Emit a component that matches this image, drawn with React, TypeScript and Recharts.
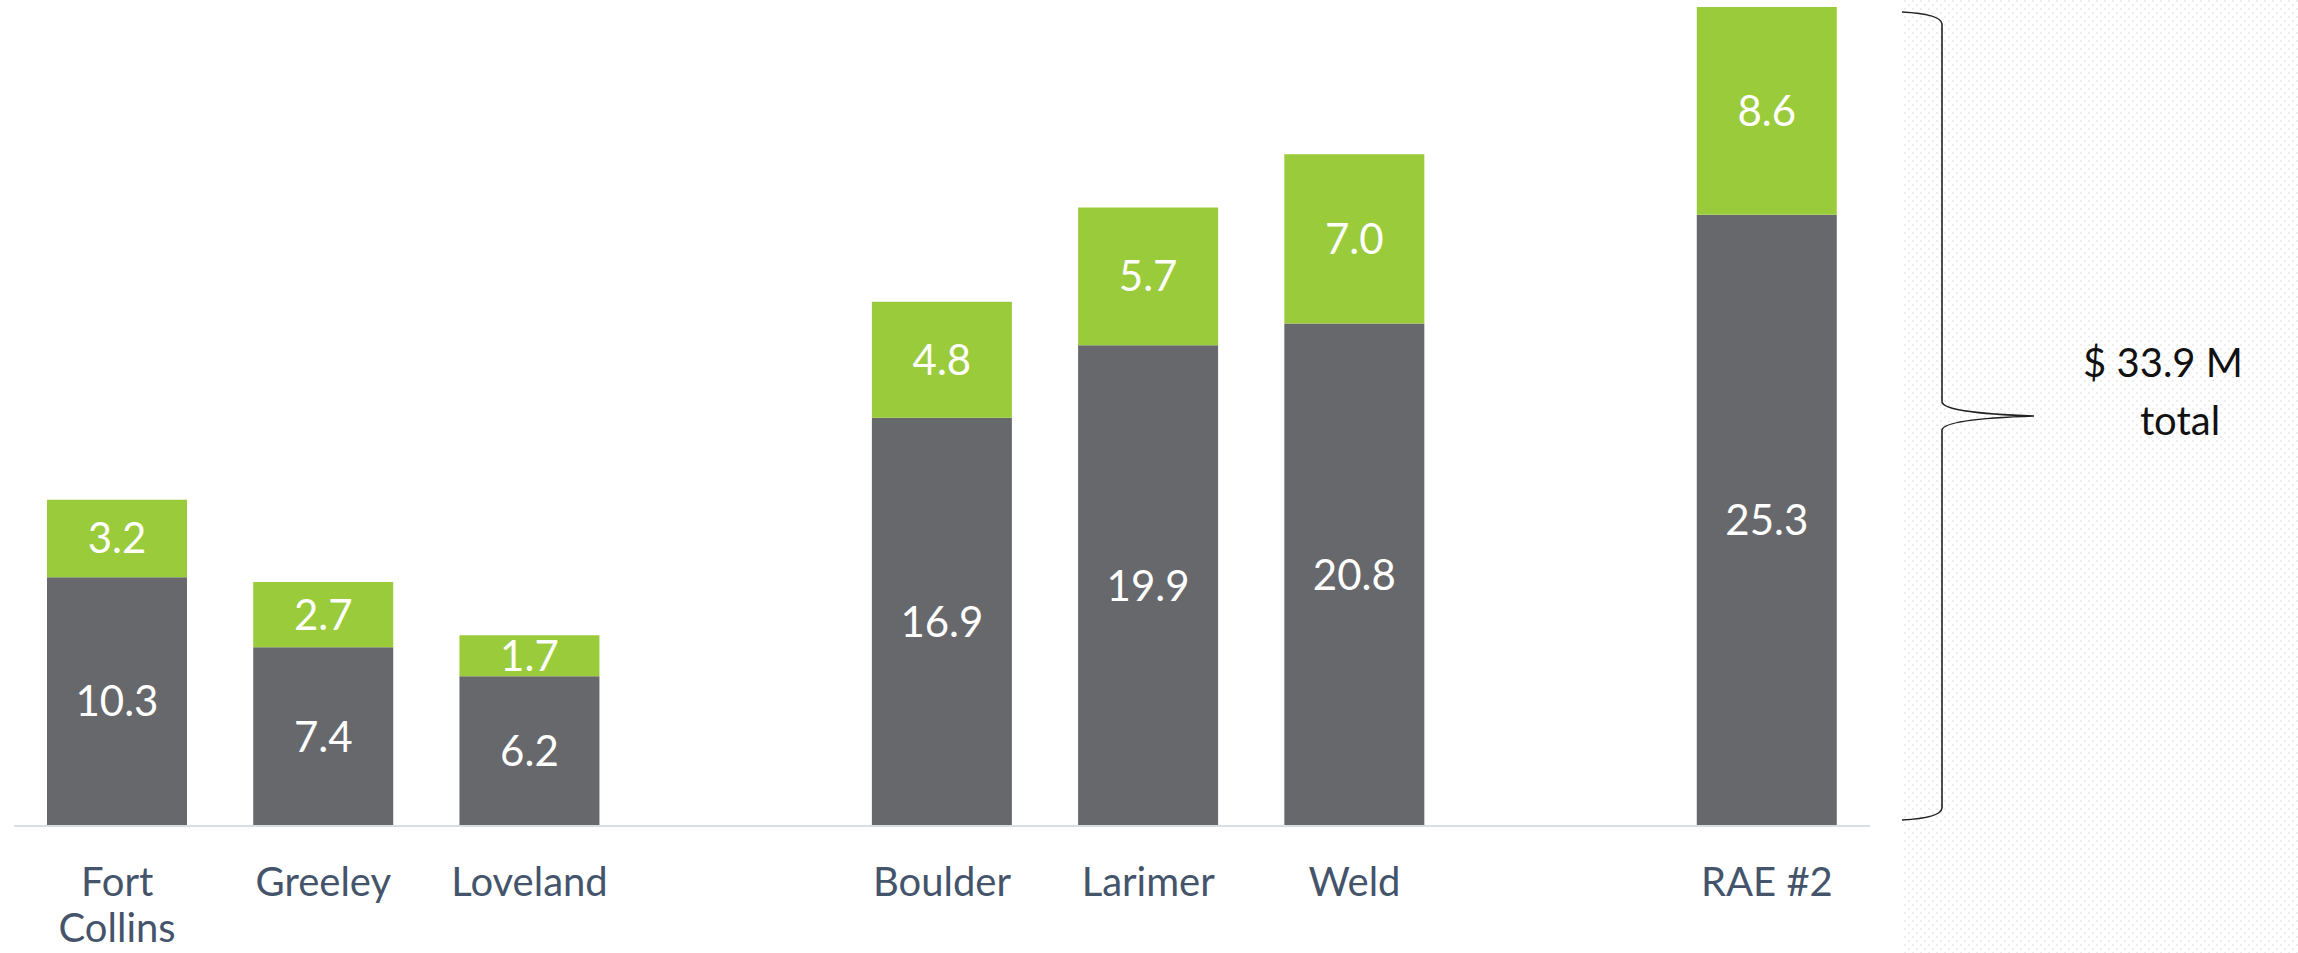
import React from 'react';
import { BarChart, Bar, XAxis, YAxis, LabelList } from 'recharts';

// slots with '' are the spacer gaps between the groups
const categories = ['Fort Collins', 'Greeley', 'Loveland', '', 'Boulder', 'Larimer', 'Weld', '', 'RAE #2'];
const baseValues = [10.3, 7.4, 6.2, null, 16.9, 19.9, 20.8, null, 25.3];
const addedValues = [3.2, 2.7, 1.7, null, 4.8, 5.7, 7.0, null, 8.6];

const data = categories.map((name, i) => ({
  slot: `s${i}`,
  name,
  base: baseValues[i],
  added: addedValues[i],
}));

const last = data.length - 1;
const total = (baseValues[last] ?? 0) + (addedValues[last] ?? 0);

const GRAY = '#67686c';
const GREEN = '#9acb3a';
const FONT = 'Lato, "Open Sans", sans-serif';

const W = 2298;
const H = 953;

const CategoryTick = ({ x, y, payload }: any) => {
  const idx = data.findIndex((d) => d.slot === payload.value);
  const label = idx >= 0 ? data[idx].name : '';
  if (!label) return null;
  const words = label === 'Fort Collins' ? ['Fort', 'Collins'] : [label];
  return (
    <g>
      {words.map((w, i) => (
        <text
          key={w}
          x={x}
          y={y + 62 + i * 46}
          textAnchor="middle"
          fill="#44546a"
          fontSize={40}
          fontFamily={FONT}
        >
          {w}
        </text>
      ))}
    </g>
  );
};

const fmt = (v: any) => (v == null ? '' : Number(v).toFixed(1));

export default function App() {
  return (
    <div style={{ position: 'absolute', left: 0, top: 0, width: W, height: H, background: '#fff' }}>
      {/* dotted panel on the right */}
      <svg width={W} height={H} style={{ position: 'absolute', left: 0, top: 0 }}>
        <defs>
          <pattern id="dots" width="8" height="8" patternUnits="userSpaceOnUse">
            <rect x="0" y="0" width="2" height="2" fill="#ededed" />
            <rect x="4" y="4" width="2" height="2" fill="#ededed" />
          </pattern>
        </defs>
        <rect x={1902} y={0} width={W - 1902} height={H} fill="url(#dots)" />
      </svg>

      <div style={{ position: 'absolute', left: 0, top: 0 }}>
        <BarChart
          width={W}
          height={H}
          data={data}
          margin={{ top: 7, right: 428, bottom: 0, left: 14 }}
          barCategoryGap="16%"
        >
          <XAxis
            dataKey="slot"
            height={127}
            tick={<CategoryTick />}
            tickLine={false}
            axisLine={{ stroke: '#d9dee5', strokeWidth: 2 }}
            interval={0}
          />
          <YAxis hide domain={[0, total]} />
          <Bar dataKey="base" stackId="a" fill={GRAY} isAnimationActive={false}>
            <LabelList
              dataKey="base"
              position="center"
              formatter={fmt}
              fill="#fff"
              fontSize={42}
              fontFamily={FONT}
            />
          </Bar>
          <Bar dataKey="added" stackId="a" fill={GREEN} isAnimationActive={false}>
            <LabelList
              dataKey="added"
              position="center"
              formatter={fmt}
              fill="#fff"
              fontSize={42}
              fontFamily={FONT}
            />
          </Bar>
        </BarChart>
      </div>

      {/* brace + total annotation */}
      <svg width={W} height={H} style={{ position: 'absolute', left: 0, top: 0, pointerEvents: 'none' }}>
        <path
          d="M1902,12 Q1941,14 1942,24 L1942,402 Q1944,413 2034,416 Q1944,419 1942,430 L1942,808 Q1941,818 1902,820"
          fill="none"
          stroke="#222"
          strokeWidth={1.6}
        />
        <text x={2163} y={377} textAnchor="middle" fontSize={40} fontFamily={FONT} fill="#111">
          {`$ ${total.toFixed(1)} M`}
        </text>
        <text x={2180} y={435} textAnchor="middle" fontSize={40} fontFamily={FONT} fill="#111">
          total
        </text>
      </svg>
    </div>
  );
}
